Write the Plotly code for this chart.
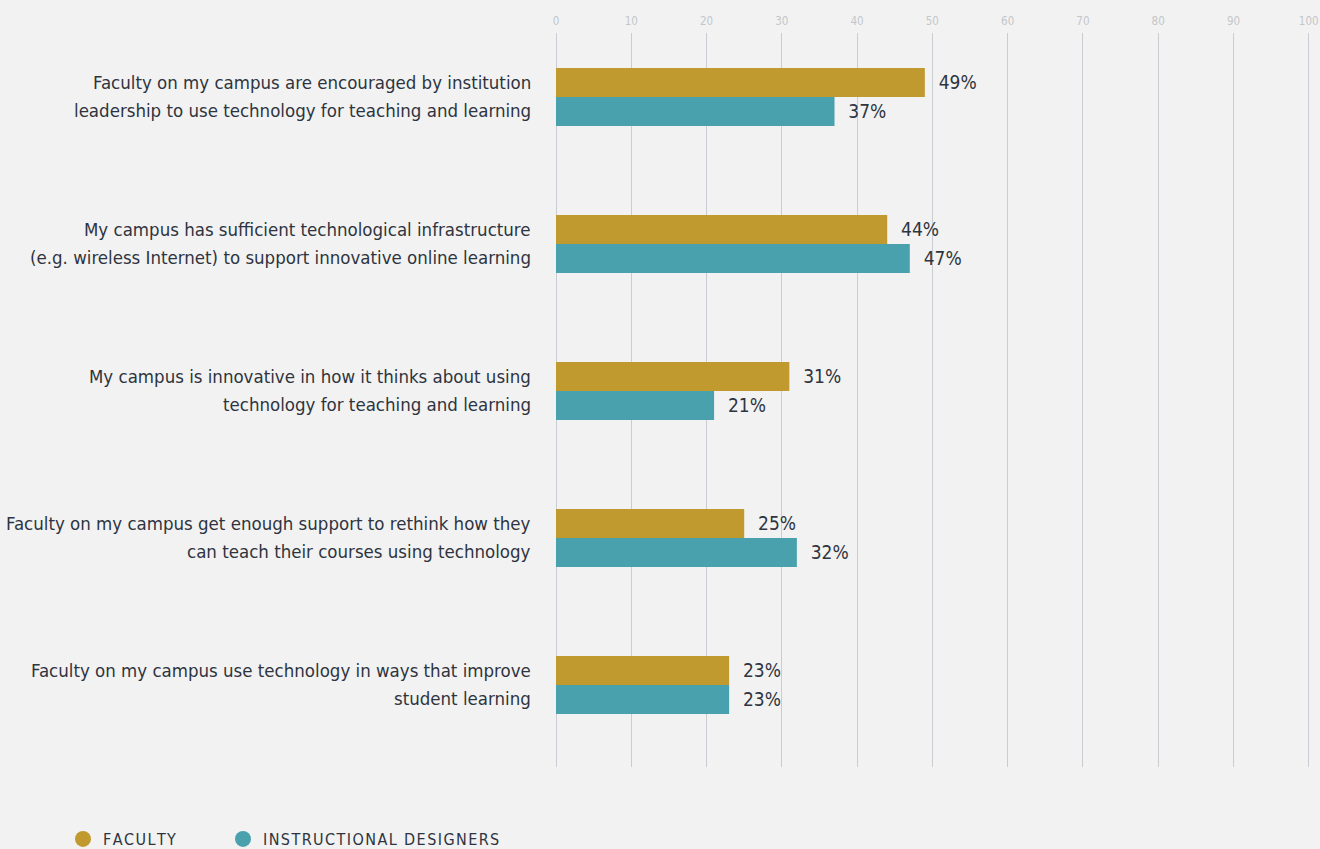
import plotly.graph_objects as go

statements = [
    "Faculty on my campus are encouraged by institution<br>leadership to use technology for teaching and learning",
    "My campus has sufficient technological infrastructure<br>(e.g. wireless Internet) to support innovative online learning",
    "My campus is innovative in how it thinks about using<br>technology for teaching and learning",
    "Faculty on my campus get enough support to rethink how they<br>can teach their courses using technology",
    "Faculty on my campus use technology in ways that improve<br>student learning",
]
faculty = [49, 44, 31, 25, 23]
designers = [37, 47, 21, 32, 23]
series_names = ["FACULTY", "INSTRUCTIONAL DESIGNERS"]
x_ticks = [0, 10, 20, 30, 40, 50, 60, 70, 80, 90, 100]

GOLD = "#c09a2f"
TEAL = "#48a1ad"
INK = "#2e3440"
GRID = "#c9cdd1"
FONT = "Liberation Sans Narrow, DejaVu Sans Condensed, Roboto Condensed, Arial Narrow, sans-serif"
LABEL_SIZE = 18.5
LINE_GAP = 28  # px between the two lines of a statement


def spaced(s):
    # widen the tracking of legend labels
    return "\u200a".join(s)


fig = go.Figure()
for vals, color in [(faculty, GOLD), (designers, TEAL)]:
    fig.add_trace(go.Bar(
        y=statements, x=vals, orientation="h",
        marker=dict(color=color, line=dict(width=0)),
        text=[f"\u00a0\u00a0{v}%" for v in vals], textposition="outside",
        textfont=dict(size=19, color=INK, family=FONT),
        cliponaxis=False, showlegend=False,
    ))

# legend entries with round markers, one legend per series
for name, color, leg in zip(series_names, [GOLD, TEAL], ["legend", "legend2"]):
    fig.add_trace(go.Scatter(
        x=[None], y=[None], mode="markers", name=spaced(name),
        marker=dict(color=color, size=17, symbol="circle"),
        legend=leg, showlegend=True,
    ))

# statement labels, right-aligned against the plot, with looser line spacing
for stmt in statements:
    lines = stmt.split("<br>")
    n = len(lines)
    for i, line in enumerate(lines):
        fig.add_annotation(
            x=0, xref="paper", y=stmt, yref="y",
            text=line, showarrow=False,
            xanchor="right", yanchor="middle", xshift=-23,
            yshift=((n - 1) / 2 - i) * LINE_GAP,
            font=dict(size=LABEL_SIZE, color=INK, family=FONT),
        )

legend_style = dict(
    orientation="h", xanchor="left", yref="container",
    y=(849 - 839) / 849, yanchor="middle",
    font=dict(size=16, color=INK, family=FONT),
    bgcolor="rgba(0,0,0,0)", itemwidth=30,
)

fig.update_layout(
    width=1320, height=849,
    paper_bgcolor="#f2f2f2", plot_bgcolor="#f2f2f2",
    margin=dict(l=556, r=9, t=33, b=82),
    barmode="group", bargap=0.605, bargroupgap=0,
    font=dict(family=FONT, color=INK),
    xaxis=dict(
        side="top", range=[0, 100.3], tickvals=x_ticks,
        showgrid=True, gridcolor=GRID, gridwidth=1,
        zeroline=True, zerolinecolor=GRID, zerolinewidth=1,
        showline=False, ticks="",
        tickfont=dict(size=11.5, color="#c3c7cb", family=FONT),
        ticklabelstandoff=5, ticklabeloverflow="allow", automargin=False,
    ),
    yaxis=dict(
        type="category", range=[4.558, -0.435],
        showgrid=False, zeroline=False, showline=False, ticks="",
        showticklabels=False, automargin=False,
    ),
    legend=dict(x=(63 - 556) / 755, **legend_style),
    legend2=dict(x=(223 - 556) / 755, **legend_style),
)

fig.write_html("out.html")
